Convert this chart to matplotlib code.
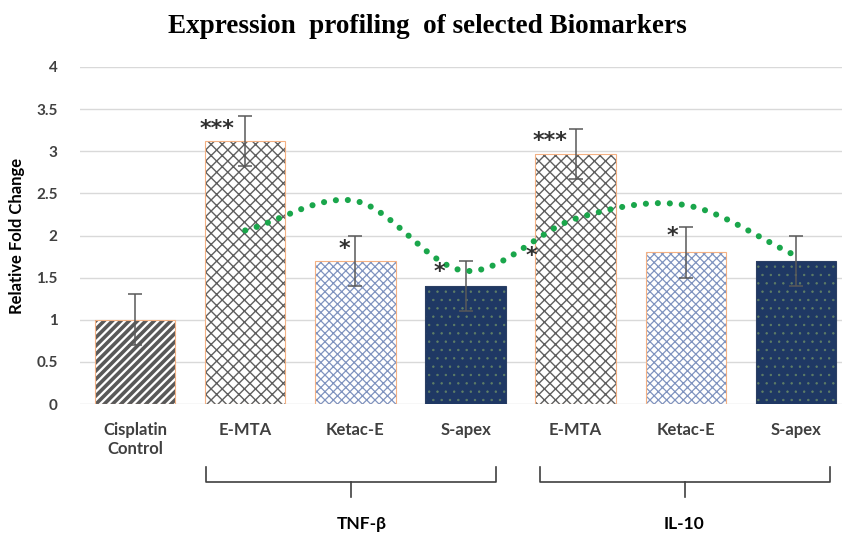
import numpy as np
import matplotlib
matplotlib.use("Agg")
import matplotlib.pyplot as plt
from matplotlib.lines import Line2D

# data
categories = ["Cisplatin\nControl", "E-MTA", "Ketac-E", "S-apex", "E-MTA", "Ketac-E", "S-apex"]
values = [1.00, 3.12, 1.70, 1.40, 2.97, 1.80, 1.70]
errors = [0.30, 0.30, 0.30, 0.30, 0.30, 0.30, 0.30]
trend_values = [2.06, 2.41, 1.58, 2.20, 2.36, 1.76]   # green dotted line, bars 2..7
groups = ["TNF-β", "IL-10"]
stars = ["***", "*", "*", "*", "***", "*"]
star_x = [0.74, 1.90, 2.76, 3.60, 3.77, 4.88]
star_y = [3.27, 1.84, 1.57, 1.76, 3.12, 1.99]

# bar styles: (face, hatch colour, hatch, hatch lw)
styles = [
    ("white", "#595959", "////", 2.6),
    ("white", "#5f5f5f", "xxx", 1.0),
    ("white", "#7f93bf", "xxxx", 0.9),
    ("#1f3864", "#5f7f66", "..", 0.5),
    ("white", "#5f5f5f", "xxx", 1.0),
    ("white", "#7f93bf", "xxxx", 0.9),
    ("#1f3864", "#5f7f66", "..", 0.5),
]

fig = plt.figure(figsize=(8.42, 5.33), dpi=100)
ax = fig.add_axes([80 / 842, 129 / 533, 771 / 842, 337 / 533])

x = np.arange(len(values))
w = 0.73
for i in range(len(values)):
    face, hc, hatch, hlw = styles[i]
    plt.rcParams["hatch.linewidth"] = hlw
    ax.bar(x[i], values[i], width=w, color=face, edgecolor=hc, hatch=hatch,
           linewidth=0, zorder=2)
    edge = "#f4b183" if face == "white" else "#2b3f63"
    ax.bar(x[i], values[i], width=w, fill=False, edgecolor=edge, linewidth=0.8, zorder=3)

ax.errorbar(x, values, yerr=errors, fmt="none", ecolor="#595959", elinewidth=1.1,
            capsize=5, capthick=1.1, zorder=4)


# smoothed line through the trend points (Catmull-Rom, like Excel's smoothed line)
def smooth(px, py, n=40):
    P = np.column_stack([np.asarray(px, float), np.asarray(py, float)])
    P = np.vstack([2 * P[0] - P[1], P, 2 * P[-1] - P[-2]])
    out = []
    for k in range(1, len(P) - 2):
        p0, p1, p2, p3 = P[k - 1], P[k], P[k + 1], P[k + 2]
        t = np.linspace(0, 1, n, endpoint=False)[:, None]
        seg = 0.5 * ((2 * p1) + (-p0 + p2) * t + (2 * p0 - 5 * p1 + 4 * p2 - p3) * t ** 2
                     + (-p0 + 3 * p1 - 3 * p2 + p3) * t ** 3)
        out.append(seg)
    out.append(P[-2][None, :])
    out = np.vstack(out)
    return out[:, 0], out[:, 1]


sx, sy = smooth(x[1:], trend_values)
ax.plot(sx, sy, color="#1aa64b", linewidth=4.4, linestyle=(0, (0.01, 1.95)),
        dash_capstyle="round", zorder=5)

for s, sxp, syp in zip(stars, star_x, star_y):
    ax.text(sxp, syp, s, ha="center", va="center", fontsize=16, fontweight="bold",
            color="#303030", family="DejaVu Sans", zorder=6)

ax.set_xlim(-0.5, len(values) - 0.5)
ax.set_ylim(0, 4)
ax.set_yticks(np.arange(0, 4.01, 0.5))
ax.set_yticklabels(["0", "0.5", "1", "1.5", "2", "2.5", "3", "3.5", "4"])
ax.yaxis.grid(True, color="#d9d9d9", linewidth=1)
ax.set_axisbelow(True)
for sp in ax.spines.values():
    sp.set_visible(False)
ax.tick_params(axis="both", length=0, colors="#404040")
ax.tick_params(axis="y", pad=16)
ax.tick_params(axis="x", pad=13)
ax.set_xticks(x)
ax.set_xticklabels(categories, fontsize=12, fontweight="bold", family="Lato", color="#404040")
for lab in ax.get_yticklabels():
    lab.set_fontsize(11)
    lab.set_fontweight("bold")
    lab.set_family("Lato")
ax.set_ylabel("Relative Fold Change", fontsize=12, fontweight="bold", family="Lato",
              color="black", labelpad=8)

# brackets under the groups
tr = ax.get_xaxis_transform()


def yf(py):
    return (404 - py) / 337


for g, (a, b), gx in zip(groups, [(0.64, 3.28), (3.675, 6.31)], [2.06, 4.98]):
    mid = (a + b) / 2
    ax.add_line(Line2D([a, a, b, b], [yf(467), yf(482), yf(482), yf(467)], transform=tr,
                       color="#404040", linewidth=1.2, clip_on=False))
    ax.add_line(Line2D([mid, mid], [yf(482), yf(497)], transform=tr,
                       color="#404040", linewidth=1.2, clip_on=False))
    ax.text(gx, yf(524), g, transform=tr, ha="center", va="center", fontsize=12.5,
            fontweight="bold", family="Lato", color="black")

fig.text(427 / 842, 1 - 33 / 533, "Expression  profiling  of selected Biomarkers",
         ha="center", va="baseline", fontsize=19.5, fontweight="bold", family="Liberation Serif")

fig.savefig("out.png", dpi=100)
